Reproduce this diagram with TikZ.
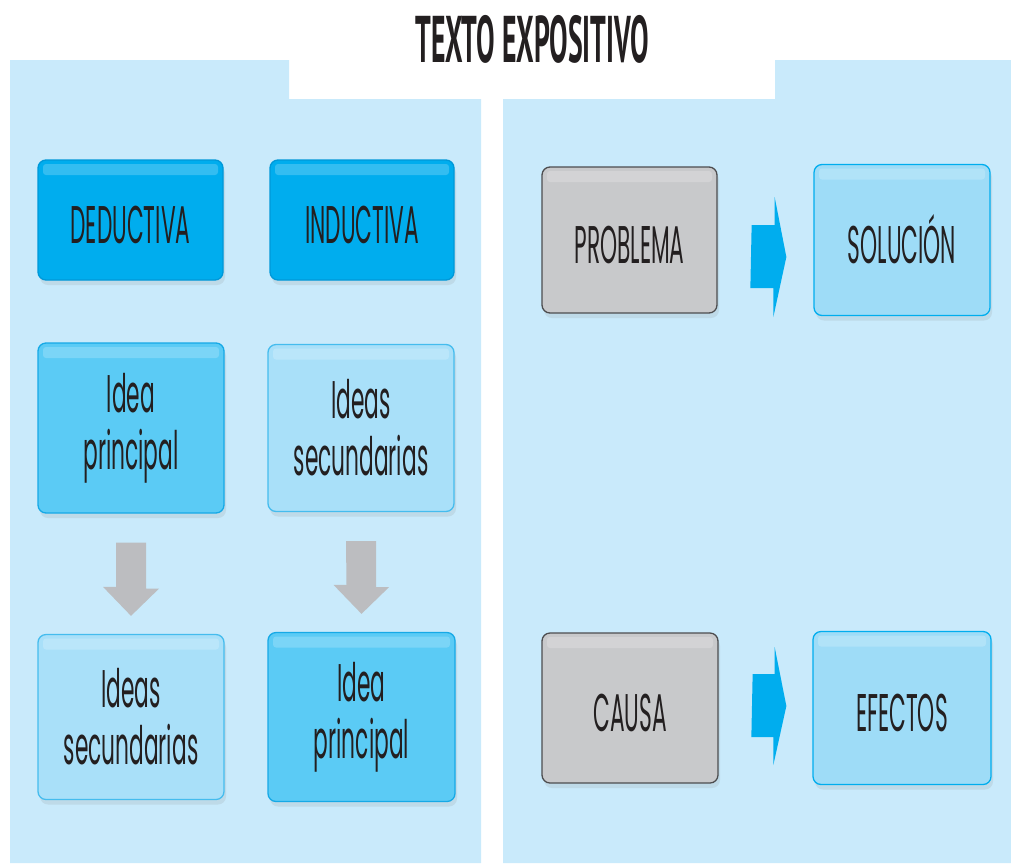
\documentclass[tikz,border=0pt]{standalone}
\usepackage{fontspec}
\usetikzlibrary{positioning,shadows}
\newfontfamily\boxfont[FakeStretch=0.41]{Poppins}
\newfontfamily\titlefont[FakeStretch=0.42]{PT Sans}
\definecolor{panel}{HTML}{C9EAFB}
\definecolor{ink}{HTML}{231F20}
\definecolor{cyandark}{HTML}{00ADEE}
\definecolor{cyandarkline}{HTML}{0098D8}
\definecolor{cyanmid}{HTML}{5BCBF5}
\definecolor{cyanmidline}{HTML}{16A9E6}
\definecolor{cyanlight}{HTML}{A9E0F9}
\definecolor{cyanlightline}{HTML}{45BCEE}
\definecolor{cyanpale}{HTML}{9EDCF7}
\definecolor{graybox}{HTML}{C8C9CB}
\definecolor{grayline}{HTML}{4D4D4F}
\definecolor{grayarrow}{HTML}{BCBDC0}

\begin{document}
\begin{tikzpicture}[x=1pt,y=-1pt,
  box/.style={draw,rounded corners=8pt,line width=1.3pt,align=center,
    text=ink,font=\boxfont\fontsize{53}{57}\selectfont,inner sep=0pt,
    drop shadow={opacity=.15,shadow xshift=2pt,shadow yshift=-5pt},
    path picture={\fill[white,opacity=.2,rounded corners=3pt]
      ([xshift=5pt,yshift=-4pt]path picture bounding box.north west)
      rectangle ([xshift=-5pt,yshift=-15pt]path picture bounding box.north east);}},
  oneline/.style={text height=46pt,text depth=0pt},
  darkbox/.style={box,oneline,fill=cyandark,draw=cyandarkline},
  midbox/.style={box,fill=cyanmid,draw=cyanmidline},
  lightbox/.style={box,fill=cyanlight,draw=cyanlightline},
  palebox/.style={box,oneline,fill=cyanpale,draw=cyandark},
  graybx/.style={box,oneline,fill=graybox,draw=grayline},
  downarrow/.style={fill=grayarrow},
  rightarrow/.style={fill=cyandark}]
\useasboundingbox (0,0) rectangle (1011,863);
% panels
\fill[panel] (10,60) -- (289,60) -- (289,99) -- (481,99) -- (481,863) -- (10,863) -- cycle;
\fill[panel] (503,99) -- (775,99) -- (775,60) -- (1011,60) -- (1011,863) -- (503,863) -- cycle;
\node[text=ink,font=\titlefont\bfseries\fontsize{66}{66}\selectfont] (title) at (532,39) {TEXTO EXPOSITIVO};
% left panel
\path
  (130.5,220) node [darkbox,minimum width=185pt,minimum height=120pt] (ded) {DEDUCTIVA}
  (362,220) node [darkbox,minimum width=184pt,minimum height=120pt] (ind) {INDUCTIVA}
  (131,428) node [midbox,minimum width=186pt,minimum height=170pt] (ipA) {Idea\\principal}
  (361,428) node [lightbox,minimum width=186pt,minimum height=167pt] (isA) {Ideas\\secundarias}
  (131,717) node [lightbox,minimum width=186pt,minimum height=165pt] (isB) {Ideas\\secundarias}
  (361.5,717) node [midbox,minimum width=187pt,minimum height=169pt] (ipB) {Idea\\principal};
\fill[downarrow] ([xshift=-15pt,yshift=-29pt]ipA.south) -- ++(30,0) -- ++(0,46)
  -- ++(13,0) -- ([yshift=18pt]isB.north) -- ++(-28,-29) -- ++(13,0) -- cycle;
\fill[downarrow] ([xshift=-15pt,yshift=-29pt]isA.south) -- ++(30,0) -- ++(0,46)
  -- ++(13,0) -- ([yshift=18pt]ipB.north) -- ++(-28,-29) -- ++(13,0) -- cycle;
% right panel
\path
  (629.5,240) node [graybx,minimum width=175pt,minimum height=146pt] (prob) {PROBLEMA}
  (902,240) node [palebox,minimum width=176pt,minimum height=151pt] (sol) {SOLUCIÓN}
  (630,708) node [graybx,minimum width=176pt,minimum height=150pt] (cau) {CAUSA}
  (902,708) node [palebox,minimum width=178pt,minimum height=153pt] (efe) {EFECTOS};
\fill[rightarrow] ([xshift=34pt,yshift=15pt]prob.east) -- ++(23,0) -- ++(0,-28)
  -- ([xshift=-27pt,yshift=-17pt]sol.west) -- ++(-13,60) -- ++(0,-29) -- ++(-23,0) -- cycle;
\fill[rightarrow] ([xshift=34pt,yshift=34pt]cau.east) -- ++(22,0) -- ++(0,-27)
  -- ([xshift=-26pt,yshift=2pt]efe.west) -- ++(-13,59) -- ++(0,-28) -- ++(-22,0) -- cycle;
\end{tikzpicture}
\end{document}
